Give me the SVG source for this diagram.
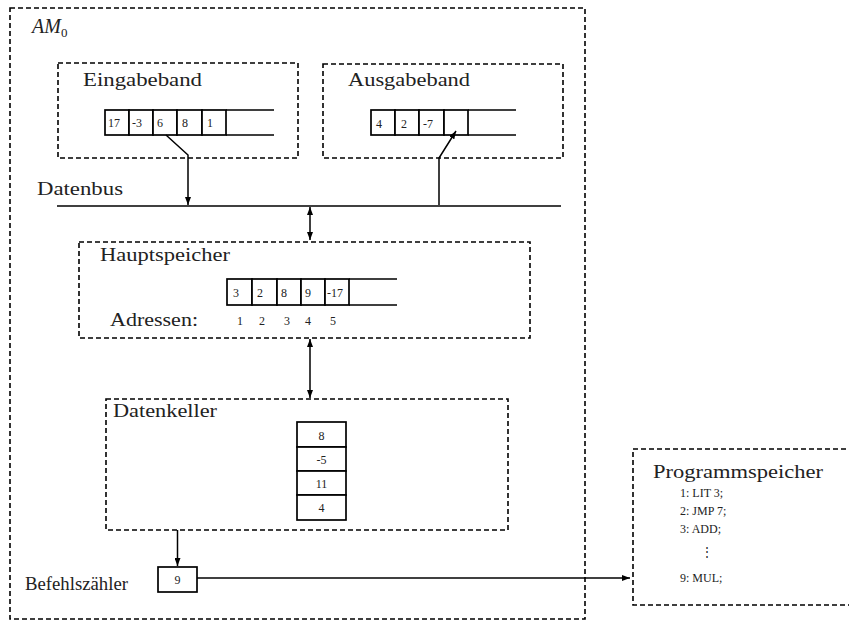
<svg xmlns="http://www.w3.org/2000/svg" width="849" height="621" viewBox="0 0 849 621">
<defs>
<marker id="ah" viewBox="0 0 8 6" refX="8" refY="3" markerWidth="8" markerHeight="6" markerUnits="userSpaceOnUse" orient="auto-start-reverse">
<path d="M0,0 L8,3 L0,6 z" fill="#000"/>
</marker>
<style>
.dash{fill:none;stroke:#000;stroke-width:1.6;stroke-dasharray:5 3}
.cell{fill:#fff;stroke:#000;stroke-width:1.7}
.ln{fill:none;stroke:#000;stroke-width:1.7}
.big{font-family:"Liberation Serif","DejaVu Serif",serif;font-size:19px;fill:#222}
.sm{font-family:"Liberation Serif","DejaVu Serif",serif;font-size:12px;fill:#222}
.pg{font-family:"Liberation Serif","DejaVu Serif",serif;font-size:12px;fill:#222}
.arr{fill:none;stroke:#000;stroke-width:1.5;marker-end:url(#ah)}
.arr2{fill:none;stroke:#000;stroke-width:1.5;marker-end:url(#ah);marker-start:url(#ah)}
</style>
</defs>
<rect width="849" height="621" fill="#fff"/>

<g id="am0">
<rect class="dash" x="10" y="8" width="575" height="611"/>
<text x="32" y="33" font-family="Liberation Serif, DejaVu Serif, serif" font-style="italic" font-size="20" fill="#222">AM<tspan font-style="normal" font-size="13" dy="4">0</tspan></text>
</g>

<g id="eingabeband">
<rect class="dash" x="58" y="63" width="240" height="95"/>
<text class="big" x="83" y="86" textLength="119" lengthAdjust="spacingAndGlyphs">Eingabeband</text>
<path class="ln" d="M226,110 H274 M226,135 H274"/>
<rect class="cell" x="105" y="110" width="24" height="25"/>
<rect class="cell" x="129" y="110" width="24" height="25"/>
<rect class="cell" x="153" y="110" width="24" height="25"/>
<rect class="cell" x="177" y="110" width="25" height="25"/>
<rect class="cell" x="202" y="110" width="24" height="25"/>
<text class="sm" x="108" y="127">17</text>
<text class="sm" x="132" y="127">-3</text>
<text class="sm" x="157" y="127">6</text>
<text class="sm" x="182" y="127">8</text>
<text class="sm" x="207" y="127">1</text>
</g>

<g id="ausgabeband">
<rect class="dash" x="323" y="64" width="240" height="94"/>
<text class="big" x="348" y="86" textLength="122" lengthAdjust="spacingAndGlyphs">Ausgabeband</text>
<path class="ln" d="M468,110 H516 M468,135 H516"/>
<rect class="cell" x="371" y="110" width="24" height="25"/>
<rect class="cell" x="395" y="110" width="24" height="25"/>
<rect class="cell" x="419" y="110" width="25" height="25"/>
<rect class="cell" x="444" y="110" width="24" height="25"/>
<text class="sm" x="376" y="128">4</text>
<text class="sm" x="401" y="128">2</text>
<text class="sm" x="423" y="128">-7</text>
</g>

<g id="datenbus">
<text class="big" x="37" y="195" textLength="86" lengthAdjust="spacingAndGlyphs">Datenbus</text>
<path class="ln" d="M57,206 H561"/>
</g>

<g id="hauptspeicher">
<rect class="dash" x="79" y="242" width="451" height="96"/>
<text class="big" x="100" y="261" textLength="130" lengthAdjust="spacingAndGlyphs">Hauptspeicher</text>
<text class="big" x="110" y="326" textLength="88" lengthAdjust="spacingAndGlyphs">Adressen:</text>
<path class="ln" d="M349,279 H397 M349,305 H397"/>
<rect class="cell" x="227" y="279" width="25" height="26"/>
<rect class="cell" x="252" y="279" width="25" height="26"/>
<rect class="cell" x="277" y="279" width="24" height="26"/>
<rect class="cell" x="301" y="279" width="24" height="26"/>
<rect class="cell" x="325" y="279" width="24" height="26"/>
<text class="sm" x="233" y="297">3</text>
<text class="sm" x="257" y="297">2</text>
<text class="sm" x="281" y="297">8</text>
<text class="sm" x="305" y="297">9</text>
<text class="sm" x="327" y="297">-17</text>
<text class="sm" x="237" y="325">1</text>
<text class="sm" x="259" y="325">2</text>
<text class="sm" x="284" y="325">3</text>
<text class="sm" x="305" y="325">4</text>
<text class="sm" x="330" y="325">5</text>
</g>

<g id="datenkeller">
<rect class="dash" x="106" y="399" width="402" height="131"/>
<text class="big" x="113" y="417" textLength="104" lengthAdjust="spacingAndGlyphs">Datenkeller</text>
<rect class="cell" x="297" y="422" width="49" height="25"/>
<rect class="cell" x="297" y="447" width="49" height="24"/>
<rect class="cell" x="297" y="471" width="49" height="24"/>
<rect class="cell" x="297" y="495" width="49" height="25"/>
<text class="sm" x="321.5" y="440" text-anchor="middle">8</text>
<text class="sm" x="321.5" y="464" text-anchor="middle">-5</text>
<text class="sm" x="321.5" y="488" text-anchor="middle">11</text>
<text class="sm" x="321.5" y="512" text-anchor="middle">4</text>
</g>

<g id="befehlszaehler">
<text class="big" x="25" y="590" textLength="103" lengthAdjust="spacingAndGlyphs">Befehlszähler</text>
<rect class="cell" x="158" y="567" width="39" height="25"/>
<text class="sm" x="177.5" y="584" text-anchor="middle">9</text>
</g>

<g id="programmspeicher">
<rect class="dash" x="633" y="449" width="240" height="156"/>
<text class="big" x="653" y="478" textLength="170" lengthAdjust="spacingAndGlyphs">Programmspeicher</text>
<text class="pg" x="680" y="497">1: LIT 3;</text>
<text class="pg" x="680" y="515">2: JMP 7;</text>
<text class="pg" x="680" y="533">3: ADD;</text>
<text class="pg" x="707" y="556" text-anchor="middle" font-family="DejaVu Serif, serif">⋮</text>
<text class="pg" x="680" y="582">9: MUL;</text>
</g>

<g id="connectors">
<path class="arr" d="M166,135 L188,155 V205"/>
<path class="arr" d="M439,205 V158 L456,131"/>
<path class="arr2" d="M310,207 V240"/>
<path class="arr2" d="M310,339 V398"/>
<path class="arr" d="M177.5,530 V566"/>
<path class="arr" d="M197,578 H630"/>
</g>
</svg>
